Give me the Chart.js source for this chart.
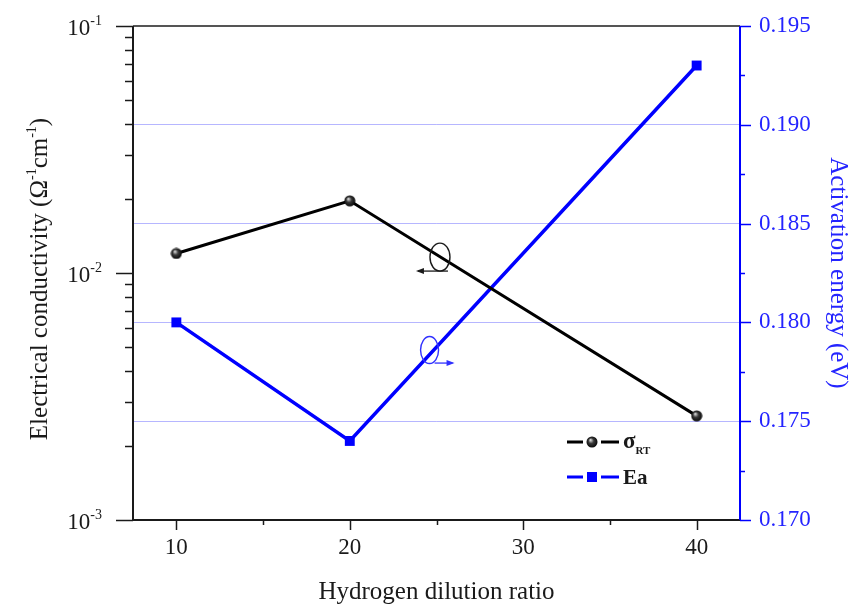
<!DOCTYPE html>
<html>
<head>
<meta charset="utf-8">
<script src="https://cdn.jsdelivr.net/npm/chart.js@4.4.1/dist/chart.umd.min.js"></script>
<style>
  body { margin: 0; background: #fff; }
</style>
</head>
<body>
<canvas id="chart" width="855" height="609"></canvas>
<script>
// hydrogen dilution ratio
const dilution = [10, 20, 40];
// room temperature conductivity (ohm^-1 cm^-1)
const sigmaRT = [0.0120, 0.0196, 0.00264];
// activation energy (eV)
const activation = [0.180, 0.174, 0.193];

const xTicks = [10, 20, 30, 40];
const xMinorTicks = [15, 25, 35];
const sigmaTicks = [1e-3, 1e-2, 1e-1];
const eaTicks = [0.170, 0.175, 0.180, 0.185, 0.190, 0.195];
const eaMinorTicks = [0.1725, 0.1775, 0.1825, 0.1875, 0.1925];

// the little loops that tell which axis a curve uses (data coords)
const sigmaLoop = [25.2, 0.0116];
const eaLoop = [24.6, 0.1786];

const serif = '"Liberation Serif", "Times New Roman", serif';
const BLUE = '#0000ff';
const BLUE_TEXT = '#2424ff';
const INK = '#1a1a1a';

// black ball marker with a grey highlight
function ballMarker() {
  const c = document.createElement('canvas');
  c.width = 12; c.height = 12;
  const g = c.getContext('2d');
  const grad = g.createRadialGradient(4.5, 4, 0.5, 6, 6, 6);
  grad.addColorStop(0, '#cfcfcf');
  grad.addColorStop(0.4, '#3a3a3a');
  grad.addColorStop(1, '#000');
  g.fillStyle = grad;
  g.beginPath();
  g.arc(6, 6, 5.5, 0, Math.PI * 2);
  g.fill();
  return c;
}

// text with super/subscripts: parts = [{t, size, dy, bold}]
function richText(ctx, parts, x, y, align) {
  let w = 0;
  parts.forEach(p => {
    ctx.font = (p.bold ? 'bold ' : '') + p.size + 'px ' + serif;
    p.w = ctx.measureText(p.t).width;
    w += p.w;
  });
  let cx = align === 'right' ? x - w : align === 'center' ? x - w / 2 : x;
  ctx.textAlign = 'left';
  ctx.textBaseline = 'alphabetic';
  parts.forEach(p => {
    ctx.font = (p.bold ? 'bold ' : '') + p.size + 'px ' + serif;
    ctx.fillText(p.t, cx, y + (p.dy || 0));
    cx += p.w;
  });
}

function arrow(ctx, x1, y, x2, color) {
  ctx.strokeStyle = color;
  ctx.fillStyle = color;
  ctx.lineWidth = 1.3;
  ctx.beginPath();
  ctx.moveTo(x1, y);
  ctx.lineTo(x2, y);
  ctx.stroke();
  const d = Math.sign(x2 - x1);
  ctx.beginPath();
  ctx.moveTo(x2 + d * 2, y);
  ctx.lineTo(x2 - d * 6, y - 3);
  ctx.lineTo(x2 - d * 6, y + 3);
  ctx.closePath();
  ctx.fill();
}

const frame = {
  id: 'frame',
  afterDraw(chart) {
    const ctx = chart.ctx;
    const ca = chart.chartArea;
    const x = chart.scales.x, yl = chart.scales.y, yr = chart.scales.y1;
    ctx.save();

    // left log axis ticks
    ctx.strokeStyle = INK;
    ctx.lineWidth = 1.5;
    const minors = [];
    for (let d = 1e-3; d < 0.099; d *= 10) {
      for (let m = 2; m <= 9; m++) minors.push(m * d);
    }
    minors.forEach(v => {
      const py = Math.round(yl.getPixelForValue(v)) + 0.5;
      ctx.beginPath(); ctx.moveTo(ca.left - 8, py); ctx.lineTo(ca.left, py); ctx.stroke();
    });
    sigmaTicks.forEach(v => {
      const py = Math.round(yl.getPixelForValue(v)) + 0.5;
      ctx.beginPath(); ctx.moveTo(ca.left - 17, py); ctx.lineTo(ca.left, py); ctx.stroke();
      ctx.fillStyle = INK;
      const e = Math.round(Math.log10(v));
      richText(ctx, [
        {t: '10', size: 23},
        {t: String(e), size: 14, dy: -10}
      ], ca.left - 31, py + 8, 'right');
    });

    // left title
    ctx.save();
    ctx.translate(38, (ca.top + ca.bottom) / 2 + 6);
    ctx.rotate(-Math.PI / 2);
    ctx.fillStyle = INK;
    richText(ctx, [
      {t: 'Electrical conductivity (\u03A9', size: 25},
      {t: '-1', size: 14, dy: -11},
      {t: 'cm', size: 25},
      {t: '-1', size: 14, dy: -11},
      {t: ')', size: 25}
    ], 0, 9, 'center');
    ctx.restore();

    // bottom ticks
    ctx.strokeStyle = INK;
    xTicks.forEach(v => {
      const px = Math.round(x.getPixelForValue(v)) + 0.5;
      ctx.beginPath(); ctx.moveTo(px, ca.bottom); ctx.lineTo(px, ca.bottom + 10); ctx.stroke();
    });
    xMinorTicks.forEach(v => {
      const px = Math.round(x.getPixelForValue(v)) + 0.5;
      ctx.beginPath(); ctx.moveTo(px, ca.bottom); ctx.lineTo(px, ca.bottom + 5); ctx.stroke();
    });

    // right ticks
    ctx.strokeStyle = BLUE;
    eaTicks.forEach(v => {
      const py = Math.round(yr.getPixelForValue(v)) + 0.5;
      ctx.beginPath(); ctx.moveTo(ca.right, py); ctx.lineTo(ca.right + 11, py); ctx.stroke();
    });
    eaMinorTicks.forEach(v => {
      const py = Math.round(yr.getPixelForValue(v)) + 0.5;
      ctx.beginPath(); ctx.moveTo(ca.right, py); ctx.lineTo(ca.right + 5, py); ctx.stroke();
    });

    // frame lines
    ctx.lineWidth = 2;
    ctx.strokeStyle = '#555';
    ctx.beginPath(); ctx.moveTo(ca.left, ca.top); ctx.lineTo(ca.right, ca.top); ctx.stroke();
    ctx.strokeStyle = INK;
    ctx.beginPath(); ctx.moveTo(ca.left - 1, ca.bottom); ctx.lineTo(ca.right, ca.bottom); ctx.stroke();
    ctx.beginPath(); ctx.moveTo(ca.left, ca.top); ctx.lineTo(ca.left, ca.bottom); ctx.stroke();
    ctx.strokeStyle = BLUE;
    ctx.beginPath(); ctx.moveTo(ca.right, ca.top); ctx.lineTo(ca.right, ca.bottom); ctx.stroke();

    // loops with arrows
    ctx.lineWidth = 1.4;
    let cx = x.getPixelForValue(sigmaLoop[0]), cy = yl.getPixelForValue(sigmaLoop[1]);
    ctx.strokeStyle = INK;
    ctx.beginPath(); ctx.ellipse(cx, cy, 10, 14, 0, 0, Math.PI * 2); ctx.stroke();
    arrow(ctx, cx + 8, cy + 14, cx - 22, INK);
    cx = x.getPixelForValue(eaLoop[0]); cy = yr.getPixelForValue(eaLoop[1]);
    ctx.lineWidth = 1.4;
    ctx.strokeStyle = '#3030ff';
    ctx.beginPath(); ctx.ellipse(cx, cy, 9, 13.5, 0, 0, Math.PI * 2); ctx.stroke();
    arrow(ctx, cx + 5, cy + 13, cx + 23, '#3030ff');

    // legend
    const lx = ca.right - 173;
    const ly1 = ca.bottom - 78, ly2 = ca.bottom - 43;
    ctx.lineWidth = 3;
    ctx.strokeStyle = '#000';
    ctx.beginPath(); ctx.moveTo(lx, ly1); ctx.lineTo(lx + 16, ly1); ctx.moveTo(lx + 34, ly1); ctx.lineTo(lx + 52, ly1); ctx.stroke();
    ctx.drawImage(ball, lx + 19, ly1 - 6);
    ctx.fillStyle = INK;
    richText(ctx, [
      {t: '\u03C3', size: 23, bold: true},
      {t: 'RT', size: 11, bold: true, dy: 6}
    ], lx + 56, ly1 + 6, 'left');
    ctx.strokeStyle = BLUE;
    ctx.beginPath(); ctx.moveTo(lx, ly2); ctx.lineTo(lx + 16, ly2); ctx.moveTo(lx + 34, ly2); ctx.lineTo(lx + 52, ly2); ctx.stroke();
    ctx.fillStyle = BLUE;
    ctx.fillRect(lx + 20, ly2 - 5, 10, 10);
    ctx.fillStyle = INK;
    richText(ctx, [{t: 'Ea', size: 21, bold: true}], lx + 56, ly2 + 7, 'left');

    ctx.restore();
  }
};

const ball = ballMarker();

new Chart(document.getElementById('chart'), {
  type: 'line',
  data: {
    datasets: [
      {
        label: '\u03C3RT',
        data: dilution.map((d, i) => ({x: d, y: sigmaRT[i]})),
        yAxisID: 'y',
        borderColor: '#000',
        borderWidth: 3,
        pointStyle: ball,
        pointRadius: 6,
        tension: 0
      },
      {
        label: 'Ea',
        data: dilution.map((d, i) => ({x: d, y: activation[i]})),
        yAxisID: 'y1',
        borderColor: BLUE,
        backgroundColor: BLUE,
        borderWidth: 3.5,
        pointStyle: 'rect',
        pointRadius: 7,
        pointBorderWidth: 0,
        tension: 0
      }
    ]
  },
  options: {
    responsive: false,
    animation: false,
    devicePixelRatio: 1,
    layout: { padding: { top: 26, left: 0, right: 0, bottom: 0 } },
    plugins: { legend: { display: false }, tooltip: { enabled: false } },
    scales: {
      x: {
        type: 'linear',
        min: 7.5,
        max: 42.5,
        afterBuildTicks: s => { s.ticks = xTicks.map(v => ({value: v})); },
        afterFit: s => { s.height = 89; s.paddingLeft = 0; s.paddingRight = 0; },
        grid: { display: false, drawTicks: false },
        border: { display: false },
        ticks: { font: { family: serif, size: 23 }, color: INK, padding: 14, maxRotation: 0 },
        title: {
          display: true, text: 'Hydrogen dilution ratio', color: INK,
          font: { family: serif, size: 25 }, padding: { top: 2, bottom: 2 }
        }
      },
      y: {
        type: 'logarithmic',
        position: 'left',
        min: 0.001,
        max: 0.1,
        afterFit: s => { s.width = 133; s.paddingTop = 0; s.paddingBottom = 0; },
        grid: { display: false, drawTicks: false },
        border: { display: false },
        ticks: { display: false }
      },
      y1: {
        type: 'linear',
        position: 'right',
        min: 0.170,
        max: 0.195,
        afterBuildTicks: s => { s.ticks = eaTicks.map(v => ({value: v})); },
        afterFit: s => { s.width = 115; s.paddingTop = 0; s.paddingBottom = 0; },
        grid: { drawOnChartArea: true, drawTicks: false, color: 'rgba(110,110,255,0.5)', lineWidth: 1 },
        border: { display: false },
        ticks: {
          font: { family: serif, size: 23 }, color: BLUE_TEXT, padding: 19,
          callback: v => v.toFixed(3)
        },
        title: {
          display: true, text: 'Activation energy (eV)', color: BLUE_TEXT,
          font: { family: serif, size: 25 }, padding: { top: 2, bottom: 2 }
        }
      }
    }
  },
  plugins: [frame]
});
</script>
</body>
</html>
